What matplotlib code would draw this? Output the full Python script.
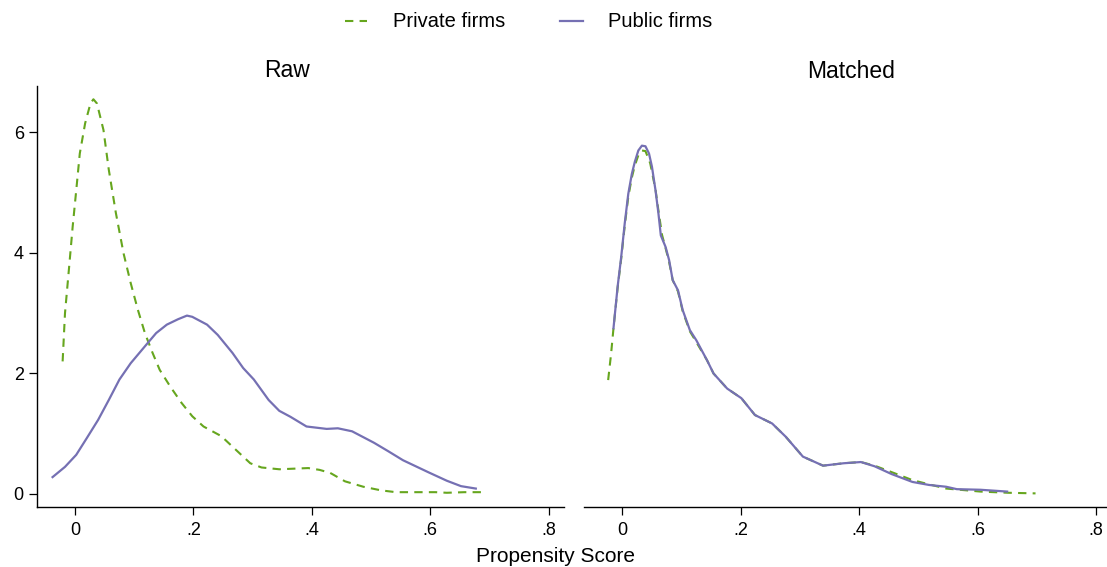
import numpy as np
import matplotlib.pyplot as plt

plt.rcParams['font.family'] = ['Liberation Sans', 'DejaVu Sans']

green = "#66a61e"
purple = "#7570b3"

# Raw panel: kernel density, private firms (dashed) and public firms (solid)
raw_priv_x = [-0.021, -0.017, -0.010, -0.004, 0.002, 0.008, 0.017, 0.026, 0.031, 0.037,
              0.048, 0.057, 0.069, 0.082, 0.094, 0.106, 0.118, 0.131, 0.143, 0.161,
              0.180, 0.198, 0.217, 0.247, 0.272, 0.296, 0.315, 0.345, 0.394, 0.413,
              0.431, 0.456, 0.487, 0.517, 0.542, 0.579, 0.609, 0.628, 0.658, 0.689]
raw_priv_y = [2.20, 3.00, 3.77, 4.44, 5.04, 5.65, 6.15, 6.48, 6.55, 6.48,
              6.04, 5.38, 4.66, 3.99, 3.50, 3.06, 2.67, 2.34, 2.06, 1.78,
              1.51, 1.29, 1.12, 0.96, 0.73, 0.51, 0.44, 0.41, 0.43, 0.40,
              0.35, 0.21, 0.12, 0.06, 0.03, 0.03, 0.03, 0.02, 0.03, 0.03]

raw_pub_x = [-0.038, -0.017, 0.002, 0.020, 0.039, 0.057, 0.075, 0.094, 0.118, 0.137,
             0.155, 0.174, 0.189, 0.198, 0.223, 0.241, 0.266, 0.284, 0.302, 0.327,
             0.345, 0.364, 0.391, 0.425, 0.444, 0.468, 0.505, 0.529, 0.554, 0.597,
             0.628, 0.652, 0.677]
raw_pub_y = [0.28, 0.45, 0.65, 0.93, 1.23, 1.56, 1.90, 2.17, 2.45, 2.67,
             2.81, 2.90, 2.96, 2.94, 2.81, 2.64, 2.34, 2.09, 1.90, 1.56,
             1.38, 1.28, 1.12, 1.08, 1.09, 1.04, 0.85, 0.71, 0.56, 0.36,
             0.22, 0.13, 0.09]

# Matched panel
m_pub_x = [-0.015, -0.008, -0.002, 0.004, 0.010, 0.016, 0.021, 0.027, 0.033, 0.039,
           0.045, 0.050, 0.056, 0.061, 0.065, 0.073, 0.079, 0.085, 0.094, 0.102,
           0.114, 0.125, 0.143, 0.154, 0.177, 0.201, 0.224, 0.253, 0.276, 0.305,
           0.339, 0.374, 0.403, 0.426, 0.455, 0.490, 0.518, 0.547, 0.565, 0.605,
           0.650]
m_pub_y = [2.75, 3.44, 3.93, 4.49, 4.98, 5.31, 5.51, 5.70, 5.78, 5.77,
           5.65, 5.43, 5.04, 4.65, 4.29, 4.10, 3.88, 3.55, 3.38, 3.05,
           2.72, 2.55, 2.22, 2.00, 1.75, 1.59, 1.31, 1.17, 0.95, 0.62,
           0.47, 0.51, 0.53, 0.46, 0.33, 0.20, 0.15, 0.12, 0.08, 0.07,
           0.04]

m_priv_x = [-0.024, -0.019, -0.015, -0.008, -0.002, 0.004, 0.010, 0.016, 0.021, 0.027,
            0.033, 0.039, 0.047, 0.056, 0.061, 0.067, 0.073, 0.079, 0.085, 0.094,
            0.102, 0.114, 0.125, 0.143, 0.154, 0.177, 0.201, 0.224, 0.253, 0.276,
            0.305, 0.339, 0.374, 0.403, 0.426, 0.461, 0.490, 0.518, 0.547, 0.605,
            0.652, 0.698]
m_priv_y = [1.89, 2.33, 2.75, 3.42, 3.90, 4.45, 4.93, 5.25, 5.45, 5.62,
            5.70, 5.69, 5.49, 5.05, 4.70, 4.30, 4.08, 3.85, 3.55, 3.36,
            3.03, 2.70, 2.52, 2.22, 2.00, 1.75, 1.59, 1.31, 1.17, 0.95,
            0.62, 0.47, 0.51, 0.53, 0.47, 0.34, 0.23, 0.16, 0.09, 0.04,
            0.02, 0.01]

xticks = [0, 0.2, 0.4, 0.6, 0.8]
xticklabels = ["0", ".2", ".4", ".6", ".8"]
yticks = [0, 2, 4, 6]

fig = plt.figure(figsize=(11.07, 5.67), dpi=100)
W, H = 1107, 567
bottom = 1 - 507 / H
height = (507 - 86) / H
ax1 = fig.add_axes([36.7 / W, bottom, (564 - 36.7) / W, height])
ax2 = fig.add_axes([584 / W, bottom, (564 - 36.7) / W, height])

dash = (0, (4, 3))
for ax, px, py, ux, uy in [(ax1, raw_priv_x, raw_priv_y, raw_pub_x, raw_pub_y),
                           (ax2, m_priv_x, m_priv_y, m_pub_x, m_pub_y)]:
    ax.plot(px, py, color=green, lw=1.5, linestyle=dash)
    ax.plot(ux, uy, color=purple, lw=1.6)
    ax.set_xlim(-0.0648, 0.826)
    ax.set_ylim(-0.216, 6.77)
    ax.set_xticks(xticks)
    ax.set_xticklabels(xticklabels)
    ax.spines['top'].set_visible(False)
    ax.spines['right'].set_visible(False)
    ax.tick_params(labelsize=13, length=5.8, width=0.9, colors='black')
    ax.tick_params(axis='x', pad=5)
    ax.spines['bottom'].set_linewidth(1.0)
    ax.spines['left'].set_linewidth(1.0)

ax1.set_yticks(yticks)
ax2.spines['left'].set_visible(False)
ax2.set_yticks([])

fig.text(287.5 / W, 1 - 77 / H, "Raw", ha='center', va='baseline', fontsize=16.5)
fig.text(851.5 / W, 1 - 78 / H, "Matched", ha='center', va='baseline', fontsize=16.5)
fig.text(556 / W, 1 - 562 / H, "Propensity Score", ha='center', va='baseline', fontsize=15)

# legend at top
ly = 1 - 21 / H
fig.add_artist(plt.Line2D([345 / W, 367 / W], [ly, ly], color=green, lw=1.5, linestyle=dash))
fig.text(393 / W, 1 - 27 / H, "Private firms", ha='left', va='baseline', fontsize=14.5)
fig.add_artist(plt.Line2D([560 / W, 583 / W], [ly, ly], color=purple, lw=1.6))
fig.text(608 / W, 1 - 27 / H, "Public firms", ha='left', va='baseline', fontsize=14.5)

fig.savefig("out.png", dpi=100)
